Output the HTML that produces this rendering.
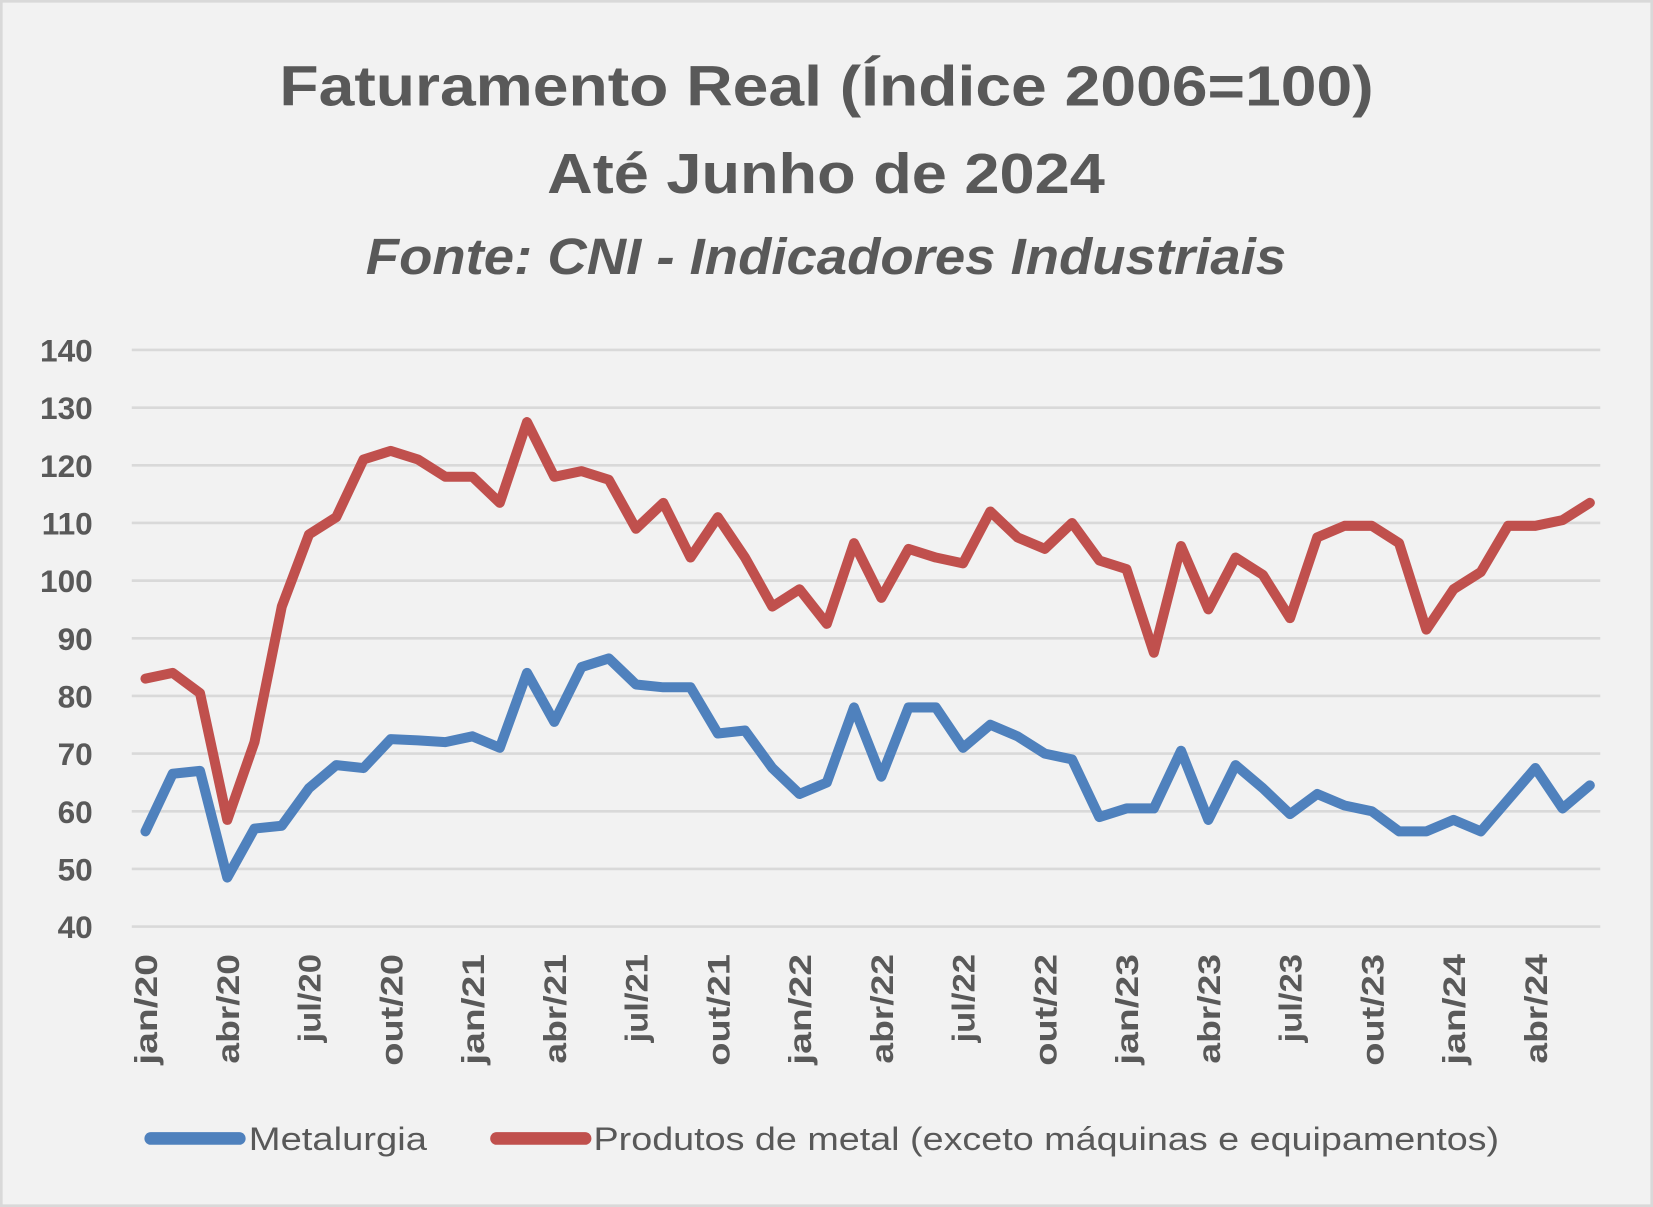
<!DOCTYPE html>
<html><head><meta charset="utf-8"><style>
html,body{margin:0;padding:0;background:#f2f2f2;}
svg{display:block;}
text{font-family:"Liberation Sans",sans-serif;fill:#595959;}
</style></head><body>
<svg id="s" width="1653" height="1207" viewBox="0 0 1568 1145" preserveAspectRatio="none" xmlns="http://www.w3.org/2000/svg">
<rect x="1" y="1" width="1566" height="1143" fill="#f2f2f2" stroke="#d9d9d9" stroke-width="3"/>
<text x="265" y="100" font-size="54" font-weight="bold" textLength="1038" lengthAdjust="spacingAndGlyphs">Faturamento Real (Índice 2006=100)</text>
<text x="519" y="183" font-size="54" font-weight="bold" textLength="529" lengthAdjust="spacingAndGlyphs">Até Junho de 2024</text>
<text x="347" y="260" font-size="48" font-weight="bold" font-style="italic" textLength="873" lengthAdjust="spacingAndGlyphs">Fonte: CNI - Indicadores Industriais</text>
<g id="grid" stroke="#d9d9d9" stroke-width="2.5"></g>
<g id="ylab" font-size="30" font-weight="bold" text-anchor="end"></g>
<g id="xlab" font-size="30" font-weight="bold" text-anchor="end"></g>
<polyline id="red" fill="none" stroke="#c0504d" stroke-width="9.5" stroke-linejoin="round" stroke-linecap="round"/>
<polyline id="blue" fill="none" stroke="#4f81bd" stroke-width="9.5" stroke-linejoin="round" stroke-linecap="round"/>
<line x1="143" y1="1080" x2="227" y2="1080" stroke="#4f81bd" stroke-width="12" stroke-linecap="round"/>
<text x="236" y="1091" font-size="31" textLength="169" lengthAdjust="spacingAndGlyphs">Metalurgia</text>
<line x1="471" y1="1080" x2="555" y2="1080" stroke="#c0504d" stroke-width="12" stroke-linecap="round"/>
<text x="563" y="1091" font-size="31" textLength="859" lengthAdjust="spacingAndGlyphs">Produtos de metal (exceto máquinas e equipamentos)</text>
</svg>
<script>
var NS="http://www.w3.org/2000/svg";
function Y(v){return 332+(140-v)*5.47;}
function X(i){return 138+i*25.85;}
var g=document.getElementById('grid'),yl=document.getElementById('ylab'),xl=document.getElementById('xlab');
for(var v=40;v<=140;v+=10){var l=document.createElementNS(NS,'line');l.setAttribute('x1',125);l.setAttribute('x2',1518);l.setAttribute('y1',Y(v));l.setAttribute('y2',Y(v));g.appendChild(l);
var t=document.createElementNS(NS,'text');t.setAttribute('x',88);t.setAttribute('y',Y(v)+11);t.textContent=v;yl.appendChild(t);}
var m=['jan','abr','jul','out'],L=[105,104,84,106];
for(var i=0;i<=51;i+=3){var yr=20+Math.floor(i/12);var k=(i%12)/3;var t=document.createElementNS(NS,'text');var x=X(i)+11;t.setAttribute('transform','translate('+x+',905) rotate(-90)');t.setAttribute('textLength',L[k]);t.setAttribute('lengthAdjust','spacingAndGlyphs');t.textContent=m[k]+'/'+yr;xl.appendChild(t);}
var b=[56.5,66.5,67,48.5,57,57.5,64,68,67.5,72.5,72.3,72,73,71,84,75.5,85,86.5,82,81.5,81.5,73.5,74,67.5,63,65,78,66,78,78,71,75,73,70,69,59,60.5,60.5,70.5,58.5,68,64,59.5,63,61,60,56.5,56.5,58.5,56.5,62,67.5,60.5,64.5];
var r=[83,84,80.5,58.5,72,95.5,108,111,121,122.5,121,118,118,113.5,127.5,118,119,117.5,109,113.5,104,111,104,95.5,98.5,92.5,106.5,97,105.5,104,103,112,107.5,105.5,110,103.5,102,87.5,106,95,104,101,93.5,107.5,109.5,109.5,106.5,91.5,98.5,101.5,109.5,109.5,110.5,113.5];
function pts(a){return a.map(function(v,i){return X(i).toFixed(1)+','+Y(v).toFixed(1);}).join(' ');}
document.getElementById('blue').setAttribute('points',pts(b));
document.getElementById('red').setAttribute('points',pts(r));
</script>
</body></html>
